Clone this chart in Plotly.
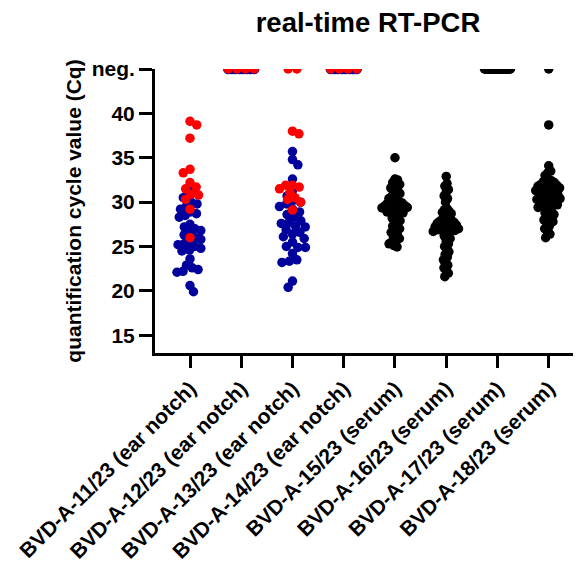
import math
import plotly.graph_objects as go

# ---------------- data ----------------
categories = [
    "BVD-A-11/23 (ear notch)", "BVD-A-12/23 (ear notch)",
    "BVD-A-13/23 (ear notch)", "BVD-A-14/23 (ear notch)",
    "BVD-A-15/23 (serum)", "BVD-A-16/23 (serum)",
    "BVD-A-17/23 (serum)", "BVD-A-18/23 (serum)",
]
y_tickvals = [15, 20, 25, 30, 35, 40, 45]
y_ticktext = ["15", "20", "25", "30", "35", "40", "neg."]
NEG_VALUE = 45  # position of "neg." on the y axis

g1_blue = [31.8, 31.2, 30.8, 30.5, 30.0, 29.8, 29.5, 29.2, 28.9, 28.7, 28.5, 28.3,
           27.5, 27.2, 27.0, 26.8, 26.5, 26.3, 26.0, 25.8, 25.5, 25.3, 25.2, 25.0,
           24.8, 24.6, 24.5, 23.6, 22.9, 22.6, 22.4, 22.2, 22.1, 20.6, 19.9]
g1_red = [39.1, 38.7, 37.2, 33.7, 33.3, 32.2, 31.7, 31.5, 30.9, 30.8, 30.3, 29.2, 26.0]
g2_blue = ["neg"] * 8
g2_red = ["neg"] * 4
g3_blue = [35.7, 34.8, 34.2, 32.6, 31.3, 30.7, 30.2, 30.0, 29.8, 29.5, 29.2, 28.9,
           28.6, 28.3, 27.9, 27.7, 27.6, 27.3, 27.2, 26.9, 26.6, 26.4, 26.1, 25.9,
           25.5, 25.0, 24.9, 24.9, 24.2, 23.5, 23.35, 23.2, 21.1, 20.4]
g3_red = ["neg", "neg", 38.0, 37.7, 31.9, 31.9, 31.7, 31.5, 31.1, 30.5, 30.3, 30.0, 29.1]
g4_blue = ["neg"] * 8
g4_red = ["neg"] * 4
g5_black = [35.0, 32.6, 32.5, 32.2, 32.0, 31.75, 31.6, 31.4, 31.2, 30.95, 30.8, 30.6,
            30.4, 30.2, 30.1, 30.0, 29.9, 29.8, 29.7, 29.6, 29.55, 29.5, 29.4, 29.35,
            29.3, 29.2, 29.1, 29.0, 28.9, 28.8, 28.6, 28.4, 28.2, 27.9, 27.7, 27.5,
            27.3, 27.0, 26.8, 26.6, 26.4, 26.1, 25.9, 25.7, 25.5, 25.3, 25.1, 24.95]
g6_black = [32.9, 32.1, 31.8, 31.4, 31.1, 30.7, 30.4, 30.0, 29.3, 29.15, 29.0, 28.85,
            28.7, 28.3, 28.2, 28.1, 28.0, 27.9, 27.8, 27.7, 27.6, 27.5, 27.45, 27.4,
            27.3, 27.25, 27.2, 27.1, 27.05, 27.0, 26.9, 26.8, 26.7, 26.6, 26.5, 26.2,
            25.9, 25.6, 25.3, 25.0, 24.7, 24.4, 24.1, 23.8, 23.5, 23.2, 22.9, 22.6,
            22.3, 22.0, 21.6]
g7_black = ["neg"] * 45
g8_black = ["neg", 38.7, 34.1, 33.5, 33.3, 33.0, 32.5, 32.4, 32.3, 32.2, 32.1, 32.0,
            31.9, 31.8, 31.7, 31.6, 31.5, 31.4, 31.3, 31.2, 31.1, 31.0, 30.9, 30.8,
            30.7, 30.6, 30.5, 30.4, 30.3, 30.2, 30.1, 30.0, 29.9, 29.8, 29.7, 29.6,
            29.4, 29.2, 29.0, 28.8, 28.6, 28.4, 28.2, 28.0, 27.8, 27.6, 27.3, 27.0,
            26.7, 26.4, 26.0]

# ---------------- layout constants ----------------
W, H = 573, 558            # page body has an 8 px margin
M_L, M_R, M_T, M_B = 147, 0, 61, 213
X_RANGE = [-0.683, 7.63]
Y_RANGE = [13, 45]
px_per_x = (W - M_L - M_R) / (X_RANGE[1] - X_RANGE[0])
px_per_y = (H - M_T - M_B) / (Y_RANGE[1] - Y_RANGE[0])

D_PX = 7.6          # collision distance used by the swarm layout
ROW_SPACING = 8.7   # spacing for identical values ("neg." rows)
MAX_HALF_PX = 13.0  # column half-width; wider swarms are compressed


def to_num(v):
    return NEG_VALUE if v == "neg" else float(v)


def swarm(vals, idx):
    nums = [to_num(v) for v in vals]
    row_x, row_y = [], []
    counts = {}
    for y in nums:
        counts[y] = counts.get(y, 0) + 1
    singles = []
    for y, n in counts.items():
        if n >= 2 and y == NEG_VALUE:
            s = min(ROW_SPACING, 2 * MAX_HALF_PX / (n - 1))
            for k in range(n):
                row_x.append((k - (n - 1) / 2) * s)
                row_y.append(y)
        else:
            singles += [y] * n
    singles.sort(reverse=True)
    placed = []
    flip = 1
    for y in singles:
        py = y * px_per_y
        cands = [0.0]
        for (qx, qy) in placed:
            dy = abs(py - qy)
            if dy < D_PX:
                dx = math.sqrt(D_PX ** 2 - dy ** 2)
                cands += [qx + dx, qx - dx]
        cands.sort(key=lambda c: (round(abs(c), 3), -flip * c))
        best = cands[-1]
        for c in cands:
            if all((c - qx) ** 2 + (py - qy) ** 2 >= D_PX ** 2 - 1e-6 for qx, qy in placed):
                best = c
                break
        if best != 0:
            flip = -flip
        placed.append((best, py))
    widest = max([abs(p[0]) for p in placed] + [1e-9])
    scale = min(1.0, MAX_HALF_PX / widest)
    out_x = [idx + o / px_per_x for o in row_x]
    out_y = list(row_y)
    for (ox, py) in placed:
        out_x.append(idx + ox * scale / px_per_x)
        out_y.append(py / px_per_y)
    return out_x, out_y


BLUE = "#00009C"
RED = "#FF0000"
BLACK = "#000000"

fig = go.Figure()


def add(vals, idx, color, size=9.5):
    xs, ys = swarm(vals, idx)
    fig.add_trace(go.Scatter(x=xs, y=ys, mode="markers",
                             marker=dict(color=color, size=size, line=dict(width=0)),
                             showlegend=False, hoverinfo="y"))


for vals, idx in [(g1_blue, 0), (g3_blue, 2)]:
    add(vals, idx, BLUE)
for vals, idx in [(g2_blue, 1), (g4_blue, 3)]:
    add(vals, idx, BLUE, size=10.5)
for vals, idx in [(g1_red, 0), (g2_red, 1), (g3_red, 2), (g4_red, 3)]:
    add(vals, idx, RED)
for vals, idx in [(g5_black, 4), (g6_black, 5), (g7_black, 6), (g8_black, 7)]:
    add(vals, idx, BLACK)

FONT = "Arial, 'Liberation Sans', sans-serif"

fig.update_layout(
    width=W, height=H, autosize=False,
    margin=dict(l=M_L, r=M_R, t=M_T, b=M_B, pad=0),
    plot_bgcolor="white", paper_bgcolor="white",
    font=dict(family=FONT, color="black", size=21, weight="bold"),
    title=dict(text="real-time RT-PCR", x=0.5, xref="paper", xanchor="center",
               y=1 - 14 / H, yref="container", yanchor="middle",
               font=dict(family=FONT, size=27.5, weight="bold", color="black")),
    xaxis=dict(range=X_RANGE, tickmode="array", tickvals=list(range(len(categories))),
               ticktext=categories, tickangle=-45, showline=True, linewidth=3,
               linecolor="black", ticks="outside", ticklen=12, tickwidth=3,
               tickcolor="black", showgrid=False, zeroline=False, automargin=False,
               tickfont=dict(family=FONT, size=21, weight="bold", color="black")),
    yaxis=dict(range=Y_RANGE, tickmode="array", tickvals=y_tickvals, ticktext=y_ticktext,
               showline=True, linewidth=3, linecolor="black", ticks="outside",
               ticklen=13, tickwidth=3, tickcolor="black", showgrid=False,
               zeroline=False, automargin=False,
               title=dict(text="quantification cycle value (Cq)", standoff=5,
                          font=dict(family=FONT, size=21, weight="bold", color="black")),
               tickfont=dict(family=FONT, size=21, weight="bold", color="black")),
)

fig.write_html("out.html")
